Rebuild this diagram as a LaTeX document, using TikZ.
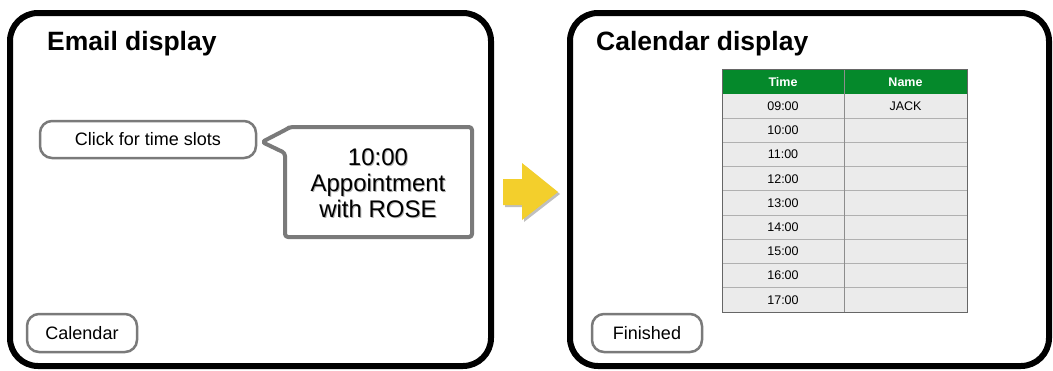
\documentclass[tikz,border=0pt]{standalone}
\usepackage{fontspec}
\setmainfont{Liberation Sans}
\usetikzlibrary{shadows}
\definecolor{hdrgreen}{HTML}{05892B}
\definecolor{rowgray}{HTML}{EBEBEB}
\definecolor{gridgray}{HTML}{B0B0B0}
\definecolor{btngray}{HTML}{7A7A7A}
\definecolor{arrowyellow}{HTML}{F3CF2C}
\tikzset{
  frame/.style={draw=black, line width=6pt, rounded corners=28pt, fill=white,
    drop shadow={opacity=0.35, shadow xshift=1pt, shadow yshift=-2pt}},
  titletext/.style={font=\fontsize{26.5}{30}\selectfont\bfseries, anchor=base west, inner sep=0pt},
  btn/.style={draw=btngray, line width=2.5pt, rounded corners=12pt, fill=white,
    font=\fontsize{18}{21}\selectfont, inner sep=0pt},
  callout/.style={draw=btngray, line width=4pt, rounded corners=3pt, line join=round, fill=white,
    drop shadow={opacity=0.4, shadow xshift=1.5pt, shadow yshift=-1.5pt}},
  bigtext/.style={align=center, font=\fontsize{24}{26}\selectfont},
  celltext/.style={font=\fontsize{12.5}{14}\selectfont, inner sep=0pt},
  hdrtext/.style={font=\fontsize{12.5}{14}\selectfont\bfseries, text=white, inner sep=0pt},
}
\begin{document}
\begin{tikzpicture}[x=1pt, y=-1pt]
\useasboundingbox (0,0) rectangle (1053,370);
% frames
\node[frame, minimum width=481pt, minimum height=353pt] (email) at (250.5,189.5) {};
\node[frame, minimum width=479pt, minimum height=353pt] (cal) at (809.5,189.5) {};
\node[titletext] (etitle) at (47,50) {Email display};
\node[titletext] (ctitle) at (596,50) {Calendar display};
% buttons
\node[btn, minimum width=216pt, minimum height=37pt] (click) at (148,139.5) {Click for time slots};
\node[btn, minimum width=110pt, minimum height=38pt] (calbtn) at (82,333) {Calendar};
\node[btn, minimum width=110pt, minimum height=38pt] (fin) at (647,333) {Finished};
% callout
\draw[callout] (290,127) -- (472,127) -- (472,237) -- (285,237) -- (285,153) -- (262,142) -- (287,129) -- cycle;
\node[bigtext, text=black, opacity=0.3] (apptshadow) at (379,184) {10:00\\Appointment\\with ROSE};
\node[bigtext] (appt) at (378,183) {10:00\\Appointment\\with ROSE};
% yellow arrow
\fill[black, opacity=0.25] (505,181) -- (524,181) -- (524,165) -- (560,194) -- (524,222) -- (524,207) -- (505,207) -- cycle;
\fill[arrowyellow] (503,179) -- (522,179) -- (522,163) -- (558,192) -- (522,220) -- (522,205) -- (503,205) -- cycle;
% table
\fill[hdrgreen] (722,69) rectangle (967,94);
\fill[rowgray] (722,94) rectangle (967,312);
\foreach \i in {1,...,8} {
  \draw[gridgray, line width=1.2pt] (722,{94+24.22*\i}) -- (967,{94+24.22*\i});
}
\draw[gridgray!80!black, line width=1pt] (844,69) -- (844,312);
\draw[black!60, line width=1pt] (722,69) rectangle (967,312);
\node[hdrtext] (htime) at (783,82) {Time};
\node[hdrtext] (hname) at (905.5,82) {Name};
\foreach \t [count=\i from 0] in {09:00,10:00,11:00,12:00,13:00,14:00,15:00,16:00,17:00} {
  \node[celltext] (t\i) at (783,{106.1+24.22*\i}) {\t};
}
\node[celltext] (jack) at (905.5,106.1) {JACK};
\end{tikzpicture}
\end{document}
